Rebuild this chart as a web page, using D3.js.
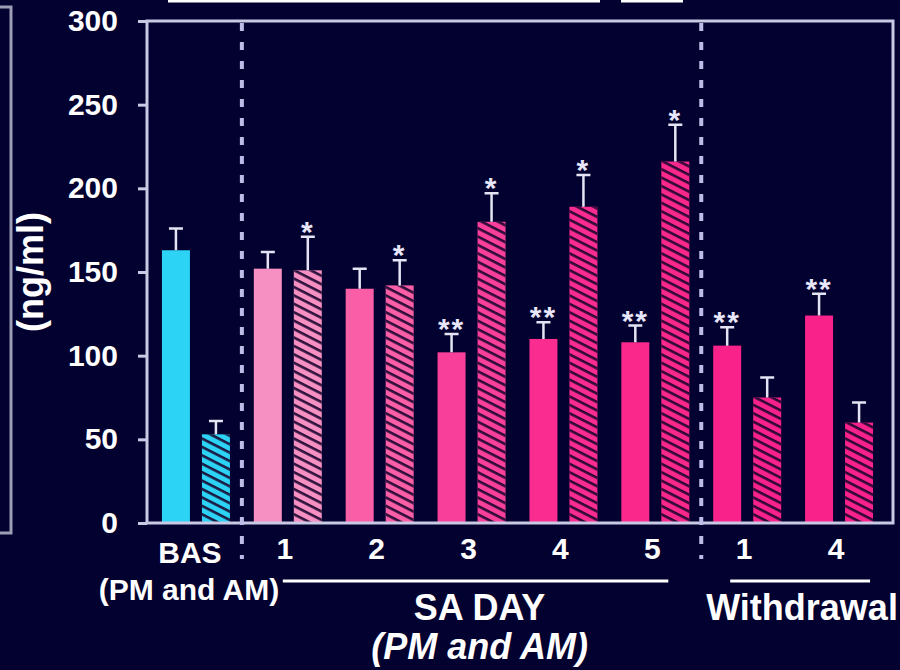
<!DOCTYPE html>
<html>
<head>
<meta charset="utf-8">
<script src="https://cdn.jsdelivr.net/npm/d3@7"></script>
<style>
  html, body { margin: 0; padding: 0; background: #03012f; }
  svg { display: block; }
  text { font-family: "Liberation Sans", Arial, sans-serif; font-weight: bold; fill: #ffffff; }
</style>
</head>
<body>
<div id="chart"></div>
<script>
// groups: baseline, SA days 1-5, withdrawal days 1 and 4
const groups = ["BAS", "D1", "D2", "D3", "D4", "D5", "W1", "W4"];
const groupLabels = ["BAS", "1", "2", "3", "4", "5", "1", "4"];
const series = ["PM", "AM"];

// PM = solid bars, AM = hatched bars
const pmValues = [163, 152, 140, 102, 110, 108, 106, 124];
const pmErrors = [13, 10, 12, 11, 10, 10, 11, 13];
const amValues = [53, 151, 142, 180, 189, 216, 75, 60];
const amErrors = [8, 20, 15, 17, 19, 22, 12, 12];
const pmStars = ["", "", "", "**", "**", "**", "**", "**"];
const amStars = ["", "*", "*", "*", "*", "*", "", ""];

const yTicks = [0, 50, 100, 150, 200, 250, 300];
const separatorsAfter = ["BAS", "D5"];
const sections = [
  { label: "SA DAY", sub: "(PM and AM)", from: "D1", to: "D5" },
  { label: "Withdrawal", sub: "", from: "W1", to: "W4" },
];

const groupColors = ["#2cd3f4", "#f690c2", "#f95ea6", "#f8409a", "#fa2c8f", "#fb288c", "#f9228a", "#f9228a"];

class PairedBars {
  constructor(_config) {
    this.config = {
      parent: _config.parent,
      width: _config.width || 900,
      height: _config.height || 670,
      margin: _config.margin || { top: 21, right: 7, bottom: 147, left: 147 },
      axisColor: "#c9c9e6",
      font: 30,
    };
    this.initVis();
  }

  initVis() {
    let vis = this;

    vis.width = vis.config.width - vis.config.margin.left - vis.config.margin.right;
    vis.height = vis.config.height - vis.config.margin.top - vis.config.margin.bottom;

    vis.svg = d3
      .select(vis.config.parent)
      .append("svg")
      .attr("width", vis.config.width)
      .attr("height", vis.config.height);

    vis.svg
      .append("rect")
      .attr("width", vis.config.width)
      .attr("height", vis.config.height)
      .attr("fill", "#03012f");

    // hatch overlay for the AM bars
    vis.svg
      .append("defs")
      .append("pattern")
      .attr("id", "hatch")
      .attr("patternUnits", "userSpaceOnUse")
      .attr("width", 8)
      .attr("height", 7.5)
      .attr("patternTransform", "rotate(27)")
      .append("rect")
      .attr("width", 8)
      .attr("height", 2.6)
      .attr("fill", "#1a0630")
      .attr("fill-opacity", 0.9);

    // cut-off title underline at the top and the box on the left edge
    vis.svg
      .selectAll(".title-cut")
      .data([[168, 600], [621, 683]])
      .join("line")
      .attr("class", "title-cut")
      .attr("x1", (d) => d[0])
      .attr("x2", (d) => d[1])
      .attr("y1", 1)
      .attr("y2", 1)
      .attr("stroke", "#ffffff")
      .attr("stroke-width", 3);

    vis.svg
      .append("path")
      .attr("d", "M0,7H11V533H0")
      .attr("fill", "none")
      .attr("stroke", "#9d9db5")
      .attr("stroke-width", 3);

    vis.chart = vis.svg
      .append("g")
      .attr("transform", `translate(${vis.config.margin.left},${vis.config.margin.top})`);

    vis.x0 = d3
      .scaleBand()
      .domain(groups)
      .range([3, 738])
      .paddingInner(0.26)
      .paddingOuter(0.13);

    vis.x1 = d3
      .scaleBand()
      .domain(series)
      .range([0, vis.x0.bandwidth()])
      .paddingInner(0.3);

    vis.y = d3.scaleLinear().domain([0, 300]).range([vis.height, 0]);

    vis.updateVis();
  }

  updateVis() {
    const vis = this;

    const rows = groups.map((g, i) => ({
      group: g,
      label: groupLabels[i],
      color: groupColors[i],
      bars: [
        { key: "PM", value: pmValues[i], err: pmErrors[i], stars: pmStars[i], hatch: false },
        { key: "AM", value: amValues[i], err: amErrors[i], stars: amStars[i], hatch: true },
      ],
    }));

    const barG = vis.chart
      .selectAll(".group")
      .data(rows)
      .join("g")
      .attr("class", "group")
      .attr("transform", (d) => `translate(${vis.x0(d.group)},0)`);

    const bar = barG
      .selectAll(".bar")
      .data((d) => d.bars.map((b) => ({ ...b, color: d.color })))
      .join("g")
      .attr("class", "bar");

    bar
      .append("rect")
      .attr("x", (d) => vis.x1(d.key))
      .attr("y", (d) => vis.y(d.value))
      .attr("width", vis.x1.bandwidth())
      .attr("height", (d) => vis.height - vis.y(d.value))
      .attr("fill", (d) => d.color);

    bar
      .filter((d) => d.hatch)
      .append("rect")
      .attr("x", (d) => vis.x1(d.key))
      .attr("y", (d) => vis.y(d.value))
      .attr("width", vis.x1.bandwidth())
      .attr("height", (d) => vis.height - vis.y(d.value))
      .attr("fill", "url(#hatch)");

    // upper error bars
    const cx = (d) => vis.x1(d.key) + vis.x1.bandwidth() / 2;
    bar
      .append("path")
      .attr("d", (d) => {
        const top = vis.y(d.value + d.err);
        return `M${cx(d)},${vis.y(d.value)}V${top}M${cx(d) - 7},${top}H${cx(d) + 7}`;
      })
      .attr("fill", "none")
      .attr("stroke", "#e4e4f4")
      .attr("stroke-width", 2.5);

    bar
      .append("text")
      .attr("x", cx)
      .attr("y", (d) => vis.y(d.value + d.err) + 5)
      .attr("text-anchor", "middle")
      .attr("font-size", 30)
      .attr("letter-spacing", 2)
      .style("fill", "#e8e6fa")
      .text((d) => d.stars);

    // frame and y axis
    vis.chart
      .append("rect")
      .attr("width", vis.width)
      .attr("height", vis.height)
      .attr("fill", "none")
      .attr("stroke", vis.config.axisColor)
      .attr("stroke-width", 3);

    const yAxis = vis.chart
      .append("g")
      .call(d3.axisLeft(vis.y).tickValues(yTicks).tickSize(9).tickPadding(20));
    yAxis.select(".domain").remove();
    yAxis.selectAll(".tick line").attr("stroke", vis.config.axisColor).attr("stroke-width", 3);
    yAxis
      .selectAll(".tick text")
      .attr("font-size", vis.config.font)
      .attr("font-family", '"Liberation Sans", Arial, sans-serif')
      .attr("font-weight", "bold")
      .style("fill", "#ffffff");

    vis.svg
      .append("text")
      .attr("transform", `translate(43,272) rotate(-90)`)
      .attr("text-anchor", "middle")
      .attr("font-size", 36)
      .text("(ng/ml)");

    // dashed separators between phases
    const sepX = (g) => {
      const i = groups.indexOf(g);
      return (vis.x0(groups[i]) + vis.x0.bandwidth() + vis.x0(groups[i + 1])) / 2;
    };
    vis.chart
      .selectAll(".sep")
      .data(separatorsAfter)
      .join("line")
      .attr("class", "sep")
      .attr("x1", sepX)
      .attr("x2", sepX)
      .attr("y1", 2)
      .attr("y2", vis.height + 36)
      .attr("stroke", "#bcbce6")
      .attr("stroke-width", 4)
      .attr("stroke-dasharray", "8,11");

    // x labels
    const center = (g) => vis.x0(g) + vis.x0.bandwidth() / 2;
    vis.chart
      .selectAll(".xlab")
      .data(rows.filter((d) => d.group !== "BAS"))
      .join("text")
      .attr("class", "xlab")
      .attr("x", (d) => center(d.group) - 3)
      .attr("y", vis.height + 36)
      .attr("text-anchor", "middle")
      .attr("font-size", vis.config.font)
      .text((d) => d.label);

    const bas = vis.chart
      .append("text")
      .attr("text-anchor", "middle")
      .attr("font-size", vis.config.font);
    bas.append("tspan").attr("x", center("BAS") - 6).attr("y", vis.height + 40).text("BAS");
    bas.append("tspan").attr("x", center("BAS") - 7).attr("y", vis.height + 77).text("(PM and AM)");

    // phase sections below the axis
    const sectionLines = { D1: -5, D5: 13, W1: -17, W4: 31 };
    const sec = vis.chart
      .selectAll(".section")
      .data(sections)
      .join("g")
      .attr("class", "section");

    sec
      .append("line")
      .attr("x1", (d) => center(d.from) + sectionLines[d.from])
      .attr("x2", (d) => center(d.to) + sectionLines[d.to])
      .attr("y1", vis.height + 58)
      .attr("y2", vis.height + 58)
      .attr("stroke", "#ffffff")
      .attr("stroke-width", 3);

    sec
      .append("text")
      .attr("x", (d) => (d.sub ? (center(d.from) + center(d.to)) / 2 + 8 : center(d.from) - 41))
      .attr("y", vis.height + 97)
      .attr("text-anchor", (d) => (d.sub ? "middle" : "start"))
      .attr("font-size", 36)
      .text((d) => d.label);

    sec
      .filter((d) => d.sub)
      .append("text")
      .attr("x", (d) => (center(d.from) + center(d.to)) / 2 + 8)
      .attr("y", vis.height + 136)
      .attr("text-anchor", "middle")
      .attr("font-size", 36)
      .attr("font-style", "italic")
      .text((d) => d.sub);
  }
}

new PairedBars({ parent: "#chart" });
</script>
</body>
</html>
